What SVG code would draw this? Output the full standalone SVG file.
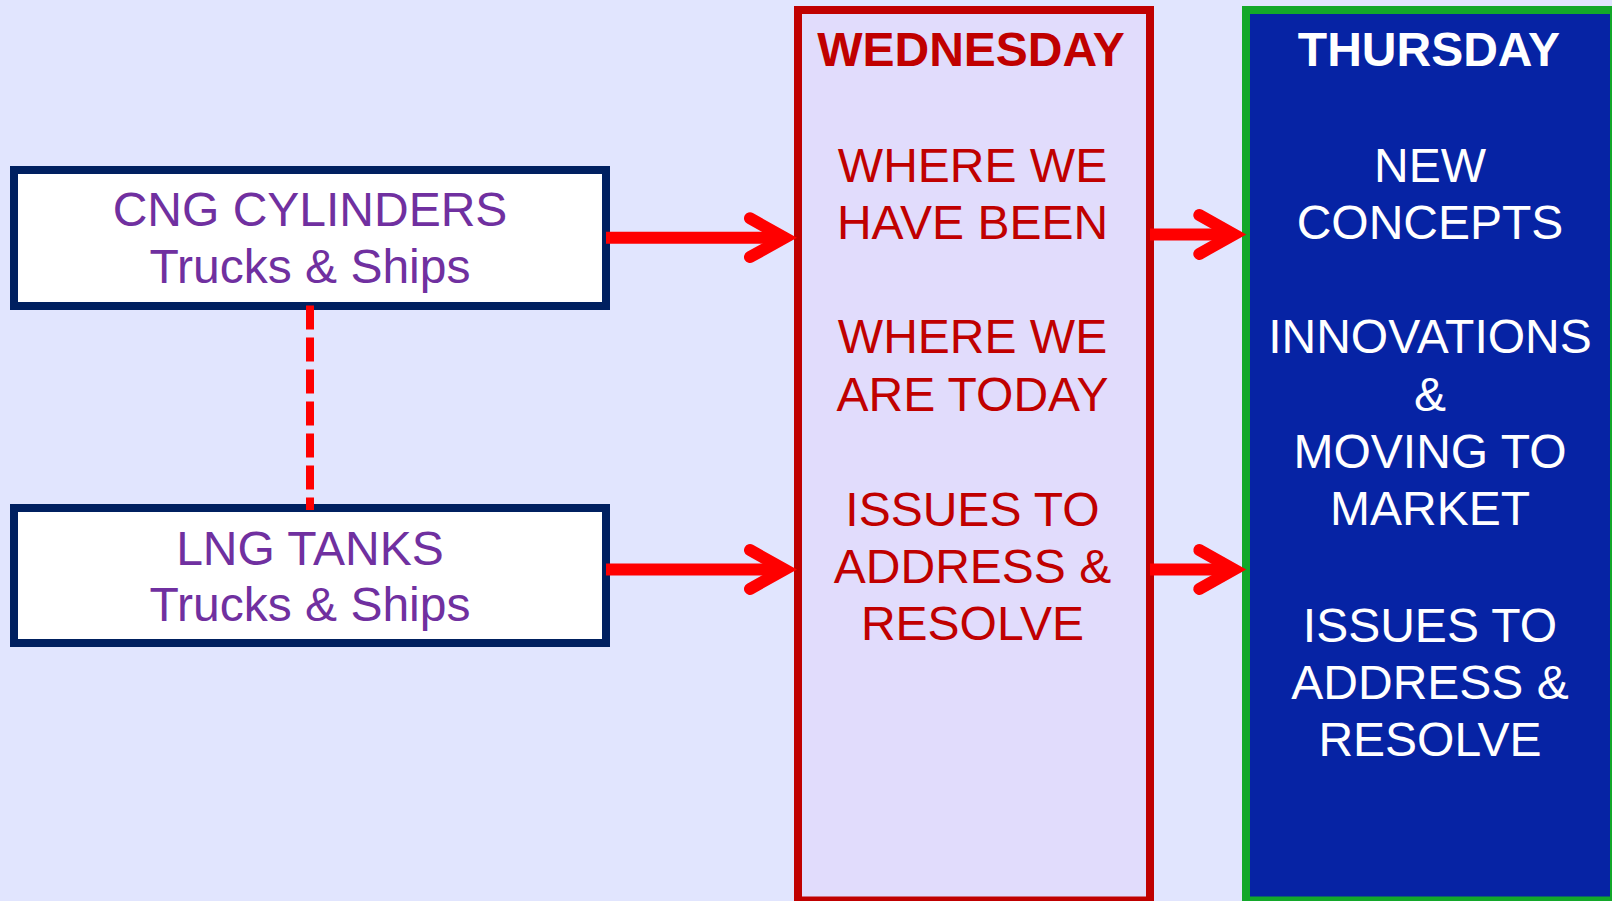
<svg xmlns="http://www.w3.org/2000/svg" width="1612" height="901" viewBox="0 0 1612 901">
  <style>
    text { font-family: "Liberation Sans", Arial, sans-serif; font-size: 48px; text-anchor: middle; }
    .title { font-weight: bold; }
    .item { fill: #7030A0; }
    .wed { fill: #C00000; }
    .thu { fill: #FFFFFF; }
    .box { fill: #FFFFFF; stroke: #002060; stroke-width: 8; }
    .link { fill: none; stroke: #FF0000; stroke-width: 12; }
    .dash { fill: none; stroke: #FF0000; stroke-width: 8; stroke-dasharray: 24 8; }
  </style>
  <defs>
    <marker id="chevron" markerUnits="userSpaceOnUse" viewBox="-45 -30 50 60" markerWidth="50" markerHeight="60" refX="0" refY="0" orient="auto" overflow="visible">
      <path d="M-34.7,-19.4 L0,0 L-34.7,19.4" fill="none" stroke="#FF0000" stroke-width="12" stroke-linecap="round" stroke-linejoin="miter" stroke-miterlimit="10"/>
    </marker>
  </defs>

  <!-- page background -->
  <rect x="0" y="0" width="1612" height="901" fill="#E1E5FE"/>

  <!-- cylinder node -->
  <g id="cng">
    <rect class="box" x="14" y="170" width="592" height="136"/>
    <text class="item" x="310" y="225.5">CNG CYLINDERS</text>
    <text class="item" x="310" y="282.5">Trucks &amp; Ships</text>
  </g>

  <!-- tank node -->
  <g id="lng">
    <rect class="box" x="14" y="508" width="592" height="135"/>
    <text class="item" x="310" y="564.5">LNG TANKS</text>
    <text class="item" x="310" y="620.5">Trucks &amp; Ships</text>
  </g>

  <!-- Wednesday column -->
  <g id="wednesday">
    <rect x="798" y="10" width="352" height="890.5" fill="#E1DCFC" stroke="#C00000" stroke-width="8"/>
    <text class="wed title" x="971" y="65.5">WEDNESDAY</text>
    <text class="wed" x="972.5" y="181.7">WHERE WE</text>
    <text class="wed" x="972.5" y="238.5">HAVE BEEN</text>
    <text class="wed" x="972.5" y="353">WHERE WE</text>
    <text class="wed" x="972.5" y="410.5">ARE TODAY</text>
    <text class="wed" x="972.5" y="525.7">ISSUES TO</text>
    <text class="wed" x="972.5" y="582.5">ADDRESS &amp;</text>
    <text class="wed" x="972.5" y="639.5">RESOLVE</text>
  </g>

  <!-- Thursday column -->
  <g id="thursday">
    <rect x="1246" y="10" width="368" height="890.5" fill="#0623A4" stroke="#13A82A" stroke-width="8"/>
    <text class="thu title" x="1429" y="65.5">THURSDAY</text>
    <text class="thu" x="1430" y="181.7">NEW</text>
    <text class="thu" x="1430" y="238.5">CONCEPTS</text>
    <text class="thu" x="1430" y="353">INNOVATIONS</text>
    <text class="thu" x="1430" y="410.5">&amp;</text>
    <text class="thu" x="1430" y="468">MOVING TO</text>
    <text class="thu" x="1430" y="525">MARKET</text>
    <text class="thu" x="1430" y="641.7">ISSUES TO</text>
    <text class="thu" x="1430" y="698.5">ADDRESS &amp;</text>
    <text class="thu" x="1430" y="755.5">RESOLVE</text>
  </g>

  <!-- connectors -->
  <g id="connectors">
    <path class="dash" d="M310,305.5 V510"/>
    <path class="link" d="M606,237.7 H784.7" marker-end="url(#chevron)"/>
    <path class="link" d="M606,569.5 H784.7" marker-end="url(#chevron)"/>
    <path class="link" d="M1150,234.5 H1234" marker-end="url(#chevron)"/>
    <path class="link" d="M1150,569.5 H1234" marker-end="url(#chevron)"/>
  </g>
</svg>
